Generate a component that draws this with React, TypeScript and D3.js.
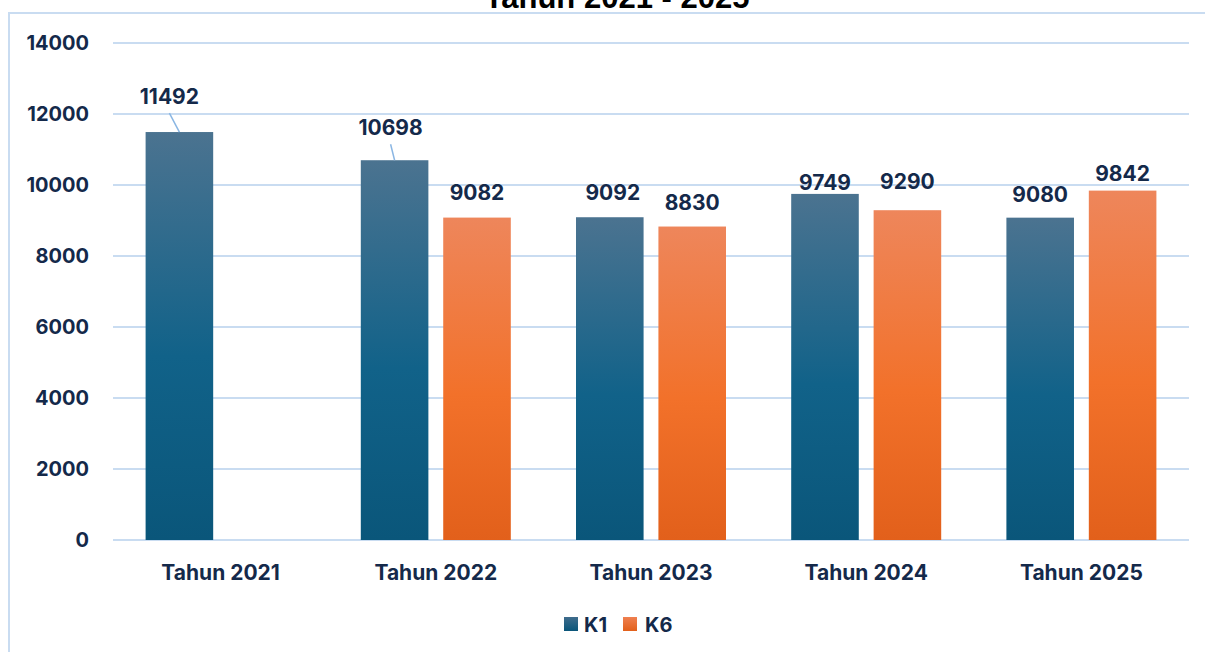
import React from "react";
import * as d3 from "d3";

const categories = ["Tahun 2021", "Tahun 2022", "Tahun 2023", "Tahun 2024", "Tahun 2025"];
const seriesNames = ["K1", "K6"];
const k1Values: (number | null)[] = [11492, 10698, 9092, 9749, 9080];
const k6Values: (number | null)[] = [null, 9082, 8830, 9290, 9842];
const yTicks = [0, 2000, 4000, 6000, 8000, 10000, 12000, 14000];
const titleText = "Tahun 2021 - 2025";

// manual label placement tweaks (pixels above bar top, horizontal shift)
const k1LabelLift = [28, 25, 17, 4, 16];
const k6LabelLift = [0, 18, 16.5, 21, 9.5];
const k1LabelDx = [-10, -4, 3, 0, 0];
const k6LabelDx = [0, 0, 0, 0, 0];

const W = 1205;
const H = 652;
const plot = { left: 113, right: 1189, top: 43, bottom: 540 };
const textColor = "#14294a";
const gridColor = "#c9dcf1";
const font = "Inter, 'Noto Sans', sans-serif";

export default function App() {
  const x = d3.scaleBand<string>().domain(categories).range([plot.left, plot.right]).paddingInner(0).paddingOuter(0);
  const groupW = 150;
  const inner = d3.scaleBand<string>().domain(seriesNames).range([0, groupW]).paddingInner(0.18).paddingOuter(0);
  const y = d3.scaleLinear().domain([0, 14000]).range([plot.bottom, plot.top]);
  const groupOffset = (x.bandwidth() - groupW) / 2;

  const series = [
    { name: "K1", values: k1Values, lift: k1LabelLift, dx: k1LabelDx, grad: "gK1" },
    { name: "K6", values: k6Values, lift: k6LabelLift, dx: k6LabelDx, grad: "gK6" },
  ];

  return (
    <svg width={W} height={H} style={{ position: "absolute", left: 0, top: 0, display: "block", background: "#fff" }}>
      <defs>
        <linearGradient id="gK1" x1="0" y1="0" x2="0" y2="1">
          <stop offset="0%" stopColor="#4b7390" />
          <stop offset="55%" stopColor="#116289" />
          <stop offset="100%" stopColor="#0a567a" />
        </linearGradient>
        <linearGradient id="gK6" x1="0" y1="0" x2="0" y2="1">
          <stop offset="0%" stopColor="#ee865b" />
          <stop offset="55%" stopColor="#f2712a" />
          <stop offset="100%" stopColor="#e2601b" />
        </linearGradient>
        <linearGradient id="lgK1" x1="0" y1="0" x2="0" y2="1">
          <stop offset="0%" stopColor="#3f6c8c" />
          <stop offset="100%" stopColor="#0a567a" />
        </linearGradient>
        <linearGradient id="lgK6" x1="0" y1="0" x2="0" y2="1">
          <stop offset="0%" stopColor="#ef8050" />
          <stop offset="100%" stopColor="#e2601b" />
        </linearGradient>
      </defs>
      <rect x={9} y={13} width={W + 20} height={H + 20} fill="#fff" stroke={gridColor} strokeWidth={2} />
      <text x={617} y={8} textAnchor="middle" fontFamily="'Liberation Sans', Arial, sans-serif" fontWeight="bold" fontSize={31} fill="#000">
        {titleText}
      </text>
      {yTicks.map((t) => (
        <g key={t}>
          <line x1={plot.left} x2={plot.right} y1={y(t)} y2={y(t)} stroke={gridColor} strokeWidth={2} />
          <text x={89} y={y(t)} dy="0.36em" textAnchor="end" fontFamily={font} fontWeight={700} fontSize={20} fill={textColor}>
            {t}
          </text>
        </g>
      ))}
      {series.map((s) =>
        categories.map((c, i) => {
          const v = s.values[i];
          if (v == null) return null;
          const bx = (x(c) as number) + groupOffset + (inner(s.name) as number);
          const bw = inner.bandwidth();
          const top = y(v);
          const lx = bx + bw / 2 + s.dx[i];
          const ly = top - s.lift[i];
          const leader = s.lift[i] > 22;
          return (
            <g key={s.name + c}>
              <rect x={bx} y={top} width={bw} height={y(0) - top} fill={`url(#${s.grad})`} />
              {leader && (
                <line x1={lx} y1={ly + 9} x2={bx + bw / 2} y2={top} stroke="#8ab6e3" strokeWidth={1.5} />
              )}
              <text x={lx} y={ly} textAnchor="middle" fontFamily={font} fontWeight={700} fontSize={21} fill={textColor}>
                {v}
              </text>
            </g>
          );
        })
      )}
      {categories.map((c) => (
        <text key={c} x={(x(c) as number) + x.bandwidth() / 2} y={580} textAnchor="middle" fontFamily={font} fontWeight={700} fontSize={21} fill={textColor}>
          {c}
        </text>
      ))}
      <g>
        <rect x={564} y={617} width={14} height={14} fill="url(#lgK1)" />
        <text x={584} y={632} fontFamily={font} fontWeight={700} fontSize={20} fill={textColor}>K1</text>
        <rect x={623} y={617} width={14} height={14} fill="url(#lgK6)" />
        <text x={645} y={632} fontFamily={font} fontWeight={700} fontSize={20} fill={textColor}>K6</text>
      </g>
    </svg>
  );
}
